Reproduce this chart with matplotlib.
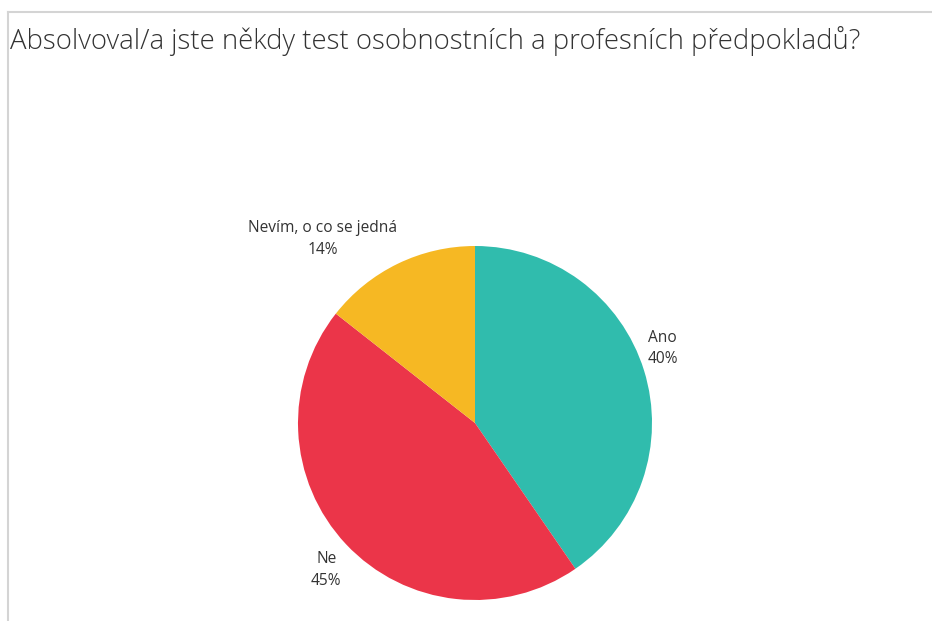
import matplotlib.pyplot as plt
from matplotlib.lines import Line2D

# ===== Datos =====
categorias = ["Ano", "Ne", "Nevím, o co se jedná"]
valores    = [40.4, 45.2, 14.4]
etiquetas  = ["40%", "45%", "14%"]
colores    = ["#30BCAD", "#EB3549", "#F6B823"]

titulo = "Absolvoval/a jste někdy test osobnostních a profesních předpokladů?"

# posiciones de las etiquetas (en radios, relativo al centro)
label_xy = [(1.06, 0.42), (-0.84, -0.83), (-0.86, 1.04)]

W, H = 932, 621
fig = plt.figure(figsize=(W/100, H/100), dpi=100)

# marco gris (arriba e izquierda)
fig.add_artist(Line2D([8/W, 1], [1-12/H, 1-12/H], color="#d4d4d4", lw=1.5))
fig.add_artist(Line2D([8/W, 8/W], [0, 1-12/H], color="#d4d4d4", lw=1.5))

fig.text(10/W, 1-41/H, titulo, fontsize=19.8, color="#333333",
         family="Open Sans", fontweight="light", va="center", ha="left")

cx, cy, r = 475, 423, 177
ax = fig.add_axes([(cx-r)/W, 1-(cy+r)/H, 2*r/W, 2*r/H])
ax.pie(valores, colors=colores, startangle=90, counterclock=False,
       radius=1, wedgeprops=dict(linewidth=0))
ax.set_xlim(-1, 1); ax.set_ylim(-1, 1)
ax.set_aspect("auto")
ax.axis("off")

for cat, et, (lx, ly) in zip(categorias, etiquetas, label_xy):
    ax.text(lx, ly, f"{cat}\n{et}", ha="center", va="center", fontsize=11.2,
            color="#333333", family="Open Sans", linespacing=1.45, clip_on=False)

fig.savefig("out.png", dpi=100)
